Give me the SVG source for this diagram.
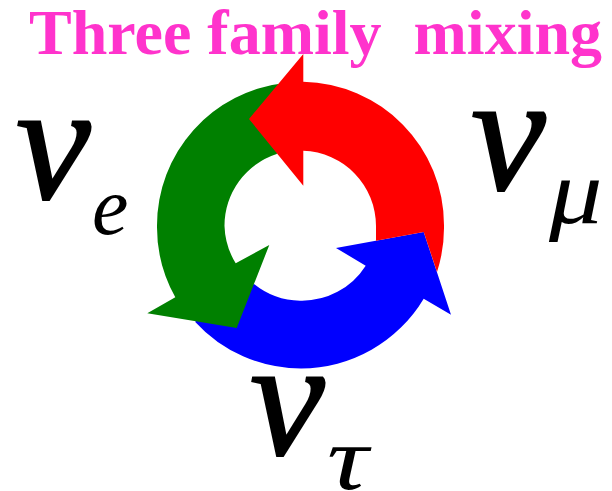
<svg xmlns="http://www.w3.org/2000/svg" width="612" height="491" viewBox="0 0 612 491">
<style>
text{font-family:"Liberation Serif",serif}
.n{font-style:italic;font-size:168px;fill:#000;stroke:#000;stroke-width:2}
.s{font-style:italic;font-size:82px;fill:#000}
.t{font-weight:bold;font-size:64px;fill:#ff33cc;white-space:pre}
</style>
<rect width="612" height="491" fill="#fff"/>
<text class="t" x="29" y="54">Three family  mixing</text>
<g id="arrows">
<path id="blue" fill="#0000ff" d="M451 314.700L423.700 232L336 248L365.700 265.700A75.500 75.500 0 0 1 300 300.700A75.500 75.500 0 0 1 254 284L195 321.700A143.500 143.500 0 0 0 301 368.500A143.500 143.500 0 0 0 423.700 298.700Z"/>
<path id="green" fill="#008000" d="M147.300 313.300L236.700 328L269.300 245L235.700 263.300A75.500 75.500 0 0 1 224.500 226A75.500 75.500 0 0 1 276.700 154L290 120L285 83A143.500 143.500 0 0 0 157 226A143.500 143.500 0 0 0 175.300 297.300Z"/>
<path id="red" fill="#ff0000" d="M303.300 54L249 119L303.300 185.700V150.700A75.500 75.500 0 0 1 376 226V240.700L423.700 232L437 272A143.500 143.500 0 0 0 444 225A143.500 143.500 0 0 0 303.300 81.700Z"/>
</g>
<g id="ve"><text class="n" x="16" y="198">ν</text><text class="s" x="92" y="234">e</text></g>
<g id="vmu"><text class="n" x="471" y="189">ν</text><text class="s" transform="translate(549 223) scale(1.3 1.1)">μ</text></g>
<g id="vtau"><text class="n" x="250" y="454">ν</text><text class="s" transform="translate(327 489) scale(1.4 1.1)">τ</text></g>
</svg>
